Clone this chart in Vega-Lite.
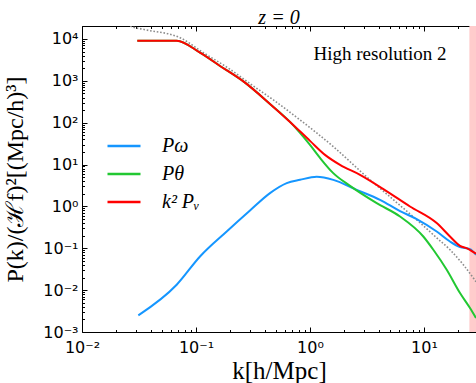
{
  "$schema": "https://vega.github.io/schema/vega-lite/v6.json",
  "width": 394,
  "height": 306,
  "autosize": {"type": "none"},
  "padding": {"left": 82, "top": 26, "right": 0, "bottom": 51},
  "background": "white",
  "title": {"text": "z = 0", "font": "Liberation Serif", "fontSize": 20, "fontStyle": "italic", "fontWeight": "normal", "offset": -11, "anchor": "middle", "color": "black"},
  "config": {
    "view": {"stroke": "black", "strokeWidth": 1},
    "axis": {"grid": false, "domain": false, "tickColor": "black", "labelColor": "black", "titleColor": "black", "labelFlush": false, "labelOverlap": false, "tickWidth": 1}
  },
  "datasets": {
    "band": [{"kmin": 25, "kmax": 40}],
    "linear": [
      {"k": 0.02243, "p": 28400}, {"k": 0.02636, "p": 20430}, {"k": 0.03449, "p": 17040}, {"k": 0.0724, "p": 10740},
      {"k": 0.1159, "p": 4710}, {"k": 0.1987, "p": 1891}, {"k": 0.3181, "p": 755.5}, {"k": 0.4768, "p": 350},
      {"k": 0.8171, "p": 116.7}, {"k": 1.601, "p": 26.9}, {"k": 3.144, "p": 5.087}, {"k": 5.03, "p": 1.694},
      {"k": 8.63, "p": 0.4788}, {"k": 12.92, "p": 0.178}, {"k": 16.9, "p": 0.0921},
      {"k": 22.12, "p": 0.0404}, {"k": 28.58, "p": 0.0159}
    ],
    "curves": [
      {"s": "Pω", "k": 0.03119, "p": 0.002489}, {"s": "Pω", "k": 0.0677, "p": 0.01345}, {"s": "Pω", "k": 0.1084, "p": 0.0637},
      {"s": "Pω", "k": 0.1859, "p": 0.2518}, {"s": "Pω", "k": 0.2976, "p": 0.798}, {"s": "Pω", "k": 0.4457, "p": 2.077},
      {"s": "Pω", "k": 0.6247, "p": 3.598}, {"s": "Pω", "k": 0.8171, "p": 4.315}, {"s": "Pω", "k": 1.145, "p": 5.087},
      {"s": "Pω", "k": 1.601, "p": 4.315}, {"s": "Pω", "k": 2.568, "p": 2.49}, {"s": "Pω", "k": 4.111, "p": 1.437},
      {"s": "Pω", "k": 6.16, "p": 0.772}, {"s": "Pω", "k": 8.63, "p": 0.4976}, {"s": "Pω", "k": 12.92, "p": 0.2518},
      {"s": "Pω", "k": 16.9, "p": 0.1453}, {"s": "Pω", "k": 20.69, "p": 0.1068}, {"s": "Pω", "k": 25.32, "p": 0.0957},
      {"s": "Pω", "k": 28.58, "p": 0.07},
      {"s": "Pθ", "k": 0.03055, "p": 9108}, {"s": "Pθ", "k": 0.0677, "p": 9108}, {"s": "Pθ", "k": 0.1084, "p": 4710},
      {"s": "Pθ", "k": 0.1624, "p": 2268}, {"s": "Pθ", "k": 0.269, "p": 906}, {"s": "Pθ", "k": 0.4457, "p": 281},
      {"s": "Pθ", "k": 0.668, "p": 104.5}, {"s": "Pθ", "k": 0.8171, "p": 57.1}, {"s": "Pθ", "k": 1.0, "p": 29.5},
      {"s": "Pθ", "k": 1.2239, "p": 14.45}, {"s": "Pθ", "k": 1.591, "p": 6.34}, {"s": "Pθ", "k": 2.244, "p": 3.1},
      {"s": "Pθ", "k": 3.846, "p": 1.199}, {"s": "Pθ", "k": 6.16, "p": 0.574}, {"s": "Pθ", "k": 9.86, "p": 0.191},
      {"s": "Pθ", "k": 12.07, "p": 0.0921}, {"s": "Pθ", "k": 15.82, "p": 0.0307}, {"s": "Pθ", "k": 20.69, "p": 0.00853},
      {"s": "Pθ", "k": 25.32, "p": 0.00374}, {"s": "Pθ", "k": 28.58, "p": 0.00216},
      {"s": "k² Pᵥ", "k": 0.03055, "p": 9108}, {"s": "k² Pᵥ", "k": 0.0677, "p": 9108}, {"s": "k² Pᵥ", "k": 0.1084, "p": 4710},
      {"s": "k² Pᵥ", "k": 0.1624, "p": 2268}, {"s": "k² Pᵥ", "k": 0.269, "p": 906}, {"s": "k² Pᵥ", "k": 0.4457, "p": 281},
      {"s": "k² Pᵥ", "k": 0.668, "p": 104.5}, {"s": "k² Pᵥ", "k": 1.0, "p": 36.8}, {"s": "k² Pᵥ", "k": 1.354, "p": 17.04},
      {"s": "k² Pᵥ", "k": 1.8336, "p": 9.83}, {"s": "k² Pᵥ", "k": 2.746, "p": 5.68}, {"s": "k² Pᵥ", "k": 4.369, "p": 2.63},
      {"s": "k² Pᵥ", "k": 7.53, "p": 0.995}, {"s": "k² Pᵥ", "k": 12.92, "p": 0.3993}, {"s": "k² Pᵥ", "k": 16.9, "p": 0.1914},
      {"s": "k² Pᵥ", "k": 20.69, "p": 0.1147}, {"s": "k² Pᵥ", "k": 24.32, "p": 0.0973}, {"s": "k² Pᵥ", "k": 28.58, "p": 0.0739}
    ]
  },
  "resolve": {"axis": {"x": "independent", "y": "independent"}},
  "layer": [
    {
      "data": {"name": "band"},
      "mark": {"type": "rect", "color": "#ffcccc", "clip": true},
      "encoding": {
        "x": {"field": "kmin", "type": "quantitative",
          "scale": {"type": "log", "domain": [0.01, 28.58], "nice": false},
          "axis": {"orient": "bottom", "values": [0.01, 0.1, 1, 10], "tickSize": -5, "labelPadding": 12,
            "labelFont": "DejaVu Sans", "labelFontSize": 16,
            "labelExpr": "'10' + {'-3':'⁻³','-2':'⁻²','-1':'⁻¹','0':'⁰','1':'¹','2':'²','3':'³','4':'⁴'}['' + round(log(datum.value)/LN10)]",
            "title": "k[h/Mpc]", "titleFont": "Liberation Serif", "titleFontSize": 25, "titleFontWeight": "normal", "titlePadding": 3}},
        "x2": {"field": "kmax"}
      }
    },
    {
      "data": {"name": "linear"},
      "mark": {"type": "line", "color": "#8c8c8c", "strokeWidth": 1.6, "strokeDash": [1.6, 1.8], "clip": true, "interpolate": "monotone"},
      "encoding": {
        "x": {"field": "k", "type": "quantitative",
          "scale": {"type": "log", "domain": [0.01, 28.58], "nice": false},
          "axis": {"orient": "bottom", "values": [0.02,0.03,0.04,0.05,0.06,0.07,0.08,0.09,0.2,0.3,0.4,0.5,0.6,0.7,0.8,0.9,2,3,4,5,6,7,8,9,20],
            "tickSize": -2.5, "labels": false, "title": null}},
        "y": {"field": "p", "type": "quantitative",
          "scale": {"type": "log", "domain": [0.001, 20430], "nice": false},
          "axis": {"orient": "left", "values": [0.001, 0.01, 0.1, 1, 10, 100, 1000, 10000], "tickSize": -5, "labelPadding": 9,
            "labelFont": "DejaVu Sans", "labelFontSize": 16, "labelBaseline": "middle",
            "labelExpr": "'10' + {'-3':'⁻³','-2':'⁻²','-1':'⁻¹','0':'⁰','1':'¹','2':'²','3':'³','4':'⁴'}['' + round(log(datum.value)/LN10)]",
            "title": "P(k)/(ℋf)²[(Mpc/h)³]", "titleFont": "Liberation Serif", "titleFontSize": 24, "titleFontWeight": "normal", "titlePadding": 15}}
      }
    },
    {
      "data": {"name": "curves"},
      "mark": {"type": "line", "strokeWidth": 2, "clip": true, "interpolate": "monotone"},
      "encoding": {
        "x": {"field": "k", "type": "quantitative",
          "scale": {"type": "log", "domain": [0.01, 28.58], "nice": false},
          "axis": {"orient": "top", "values": [0.01, 0.1, 1, 10], "tickSize": -5, "labels": false, "title": null}},
        "y": {"field": "p", "type": "quantitative",
          "scale": {"type": "log", "domain": [0.001, 20430], "nice": false},
          "axis": {"orient": "left", "values": [0.002,0.003,0.004,0.005,0.006,0.007,0.008,0.009,0.02,0.03,0.04,0.05,0.06,0.07,0.08,0.09,0.2,0.3,0.4,0.5,0.6,0.7,0.8,0.9,2,3,4,5,6,7,8,9,20,30,40,50,60,70,80,90,200,300,400,500,600,700,800,900,2000,3000,4000,5000,6000,7000,8000,9000,20000],
            "tickSize": -2.5, "labels": false, "title": null}},
        "color": {"field": "s", "type": "nominal",
          "scale": {"domain": ["Pω", "Pθ", "k² Pᵥ"], "range": ["#1596ff", "#22c832", "#ff0000"]},
          "legend": {"orient": "none", "legendX": 24, "legendY": 102, "title": null, "padding": 0,
            "symbolType": "stroke", "symbolSize": 1089, "symbolStrokeWidth": 2.5,
            "labelFont": "Liberation Serif", "labelFontSize": 20, "labelFontStyle": "italic", "labelColor": "black",
            "labelOffset": 20, "rowPadding": 0}}
      }
    },
    {
      "data": {"values": [{}]},
      "mark": {"type": "text", "font": "Liberation Serif", "fontSize": 19, "align": "center", "baseline": "alphabetic", "color": "black"},
      "encoding": {
        "x": {"datum": 4.11, "type": "quantitative",
          "scale": {"type": "log", "domain": [0.01, 28.58], "nice": false},
          "axis": {"orient": "top", "values": [0.02,0.03,0.04,0.05,0.06,0.07,0.08,0.09,0.2,0.3,0.4,0.5,0.6,0.7,0.8,0.9,2,3,4,5,6,7,8,9,20],
            "tickSize": -2.5, "labels": false, "title": null}},
        "y": {"datum": 3155, "type": "quantitative",
          "scale": {"type": "log", "domain": [0.001, 20430], "nice": false},
          "axis": {"orient": "right", "values": [0.001, 0.01, 0.1, 1, 10, 100, 1000, 10000], "tickSize": -5, "labels": false, "title": null}},
        "text": {"value": "High resolution 2"}
      }
    },
    {
      "data": {"name": "linear"},
      "mark": {"type": "point", "opacity": 0},
      "encoding": {
        "x": {"field": "k", "type": "quantitative",
          "scale": {"type": "log", "domain": [0.01, 28.58], "nice": false}, "axis": null},
        "y": {"field": "p", "type": "quantitative",
          "scale": {"type": "log", "domain": [0.001, 20430], "nice": false},
          "axis": {"orient": "right", "values": [0.002,0.003,0.004,0.005,0.006,0.007,0.008,0.009,0.02,0.03,0.04,0.05,0.06,0.07,0.08,0.09,0.2,0.3,0.4,0.5,0.6,0.7,0.8,0.9,2,3,4,5,6,7,8,9,20,30,40,50,60,70,80,90,200,300,400,500,600,700,800,900,2000,3000,4000,5000,6000,7000,8000,9000,20000],
            "tickSize": -2.5, "labels": false, "title": null}}
      }
    }
  ]
}
